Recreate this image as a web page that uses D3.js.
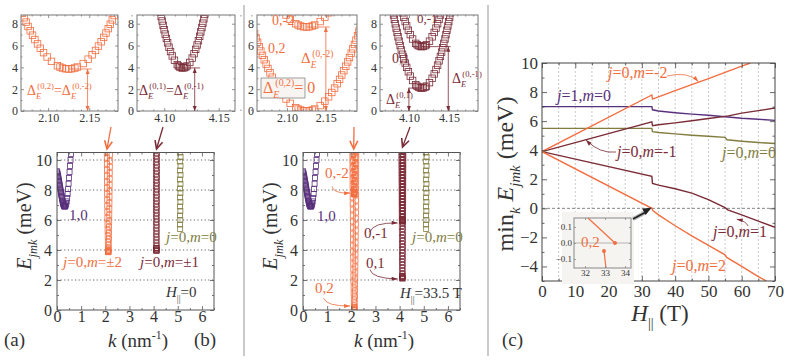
<!DOCTYPE html>
<html>
<head>
<meta charset="utf-8">
<script src="https://cdn.jsdelivr.net/npm/d3@7"></script>
<style>
body { margin: 0; background: #fff; }
svg { display: block; }
</style>
</head>
<body>
<svg id="chart" width="785" height="361"></svg>
<script>
// ---------- panel (a)/(b): band markers, k in nm^-1, E in meV ----------
var kJ1 = [0,0.01,0.02,0.03,0.04,0.05,0.06,0.07,0.08,0.09,0.10,0.11,0.12,0.13,0.14,0.15,0.16,0.17,0.18,0.19,0.20,0.21,0.22,0.23,0.24,0.25,0.26,0.27,0.28,0.29,0.30,0.31,0.32,0.33,0.34,0.36,0.38,0.40,0.42,0.44,0.46,0.48,0.50,0.52,0.54,0.56,0.58,0.60];
var eJ1 = [9.25,9.18,9.1,9.03,8.95,8.87,8.78,8.69,8.6,8.51,8.42,8.33,8.24,8.15,8.05,7.96,7.87,7.78,7.69,7.6,7.52,7.44,7.36,7.28,7.21,7.14,7.08,7.03,6.98,6.95,6.92,6.91,6.9,6.91,6.92,6.98,7.08,7.24,7.46,7.74,8.06,8.42,8.8,9.2,9.6,10.0,10.4,10.8];

// j=0, m=+-2 at H=0
var kM2a = [2.0603,2.0623,2.0643,2.0664,2.0685,2.0708,2.0732,2.0756,2.0782,2.0810,2.0839,2.0871,2.0905,2.0944,2.0988,2.1041,2.1113,2.1144,2.1175,2.1215,2.1250,2.1285,2.1325,2.1356,2.1427,2.1487,2.1535,2.1576,2.1612,2.1645,2.1676,2.1704,2.1731,2.1756,2.1780,2.1803,2.1826,2.1847,2.1867,2.1887];
var eM2a = [10.55,10.15,9.75,9.35,8.95,8.55,8.15,7.75,7.35,6.95,6.55,6.15,5.75,5.35,4.95,4.55,4.15,4.03,3.94,3.87,3.85,3.87,3.94,4.03,4.35,4.75,5.15,5.55,5.95,6.35,6.75,7.15,7.55,7.95,8.35,8.75,9.15,9.55,9.95,10.35];

// j=0, m=2 at H=33.5 T
var kM2b = [2.0448,2.0463,2.0479,2.0496,2.0513,2.0530,2.0547,2.0565,2.0584,2.0603,2.0623,2.0643,2.0664,2.0685,2.0708,2.0732,2.0756,2.0782,2.0810,2.0839,2.0871,2.0905,2.0944,2.0988,2.1041,2.1113,2.1144,2.1175,2.1215,2.1250,2.1285,2.1325,2.1356,2.1427,2.1487,2.1535,2.1576,2.1612,2.1645,2.1676,2.1704,2.1731,2.1756,2.1780,2.1803,2.1826,2.1847,2.1867,2.1887,2.1907,2.1925,2.1944,2.1962,2.1979,2.1996,2.2012,2.2029,2.2045,2.2060];
var eM2b = [10.3,9.9,9.5,9.1,8.7,8.3,7.9,7.5,7.1,6.7,6.3,5.9,5.5,5.1,4.7,4.3,3.9,3.5,3.1,2.7,2.3,1.9,1.5,1.1,0.7,0.3,0.18,0.09,0.02,0,0.02,0.09,0.18,0.5,0.9,1.3,1.7,2.1,2.5,2.9,3.3,3.7,4.1,4.5,4.9,5.3,5.7,6.1,6.5,6.9,7.3,7.7,8.1,8.5,8.9,9.3,9.7,10.1,10.5];

// j=0, m=-2 at H=33.5 T
var kM2nb = [2.0839,2.0871,2.0905,2.0944,2.0988,2.1041,2.1113,2.1144,2.1175,2.1215,2.1250,2.1285,2.1325,2.1356,2.1427,2.1487,2.1535,2.1576,2.1612,2.1645,2.1676];
var eM2nb = [10.4,10.0,9.6,9.2,8.8,8.4,8.0,7.88,7.79,7.72,7.7,7.72,7.79,7.88,8.2,8.6,9.0,9.4,9.8,10.2,10.6];

// j=0, m=+-1 at H=0
var kM1a = [4.0934,4.0941,4.0948,4.0956,4.0964,4.0972,4.0981,4.0990,4.0999,4.1009,4.1020,4.1031,4.1044,4.1058,4.1074,4.1094,4.1120,4.1131,4.1143,4.1157,4.1170,4.1183,4.1197,4.1209,4.1235,4.1257,4.1274,4.1289,4.1302,4.1314,4.1326,4.1336,4.1346,4.1355,4.1364,4.1372,4.1380,4.1388,4.1396,4.1403];
var eM1a = [10.65,10.25,9.85,9.45,9.05,8.65,8.25,7.85,7.45,7.05,6.65,6.25,5.85,5.45,5.05,4.65,4.25,4.13,4.04,3.97,3.95,3.97,4.04,4.13,4.45,4.85,5.25,5.65,6.05,6.45,6.85,7.25,7.65,8.05,8.45,8.85,9.25,9.65,10.05,10.45];

// j=0, m=1 at H=33.5 T
var kM1b = [4.0768,4.0778,4.0787,4.0797,4.0808,4.0819,4.0830,4.0841,4.0853,4.0865,4.0878,4.0891,4.0905,4.0920,4.0936,4.0954,4.0972,4.0993,4.1017,4.1046,4.1085,4.1102,4.1119,4.1141,4.1160,4.1179,4.1201,4.1218,4.1256,4.1289,4.1315,4.1337,4.1357,4.1375,4.1392,4.1407,4.1422,4.1435,4.1449,4.1461,4.1473,4.1485,4.1496,4.1507,4.1517,4.1528,4.1538,4.1547,4.1557];
var eM1b = [10.4,10.0,9.6,9.2,8.8,8.4,8.0,7.6,7.2,6.8,6.4,6.0,5.6,5.2,4.8,4.4,4.0,3.6,3.2,2.8,2.4,2.28,2.19,2.12,2.1,2.12,2.19,2.28,2.6,3.0,3.4,3.8,4.2,4.6,5.0,5.4,5.8,6.2,6.6,7.0,7.4,7.8,8.2,8.6,9.0,9.4,9.8,10.2,10.6];

// j=0, m=-1 at H=33.5 T
var kM1nb = [4.0865,4.0878,4.0891,4.0905,4.0920,4.0936,4.0954,4.0972,4.0993,4.1017,4.1046,4.1085,4.1102,4.1119,4.1141,4.1160,4.1179,4.1201,4.1218,4.1256,4.1289,4.1315,4.1337,4.1357,4.1375,4.1392,4.1407,4.1422,4.1435,4.1449];
var eM1nb = [10.6,10.2,9.8,9.4,9.0,8.6,8.2,7.8,7.4,7.0,6.6,6.2,6.08,5.99,5.92,5.9,5.92,5.99,6.08,6.4,6.8,7.2,7.6,8.0,8.4,8.8,9.2,9.6,10.0,10.4];

// j=0, m=0
var kM0 = [5.0840,5.0850,5.0860,5.0871,5.0883,5.0897,5.0913,5.0933,5.0961,5.1000,5.1055,5.1078,5.1095,5.1110,5.1123,5.1135,5.1145,5.1155];
var eM0 = [10.5,9.9,9.3,8.7,8.1,7.5,6.9,6.3,5.7,5.4,6.0,6.6,7.2,7.8,8.4,9.0,9.6,10.2];

// ---------- panel (c): min_k E vs field (T, meV) ----------
var fieldJ1 = [0,33,33.2,35,40,45,50,55,60,65,70];
var minJ1 = [7.0,7.0,6.78,6.7,6.58,6.48,6.4,6.3,6.2,6.13,6.05];
var fieldM0 = [0,33,33.2,35,40,45,50,55,55.6,60,65,70];
var minM0 = [5.5,5.5,5.28,5.22,5.12,5.03,4.96,4.88,4.72,4.62,4.53,4.46];
var fieldM1n = [0,33,33.2,35,40,45,50,55,56,60,65,70];
var minM1n = [3.9,5.95,5.68,5.75,5.88,6.03,6.18,6.33,6.36,6.55,6.72,6.9];
var fieldM1 = [0,33,33.2,35,40,45,50,55,55.8,60,65,70];
var minM1 = [3.9,2.2,1.72,1.6,1.35,1.05,0.6,0.05,-0.1,-0.45,-0.88,-1.3];
var fieldM2n = [0,33,33.2,40,50,60,62.6];
var minM2n = [3.9,7.8,7.52,8.1,8.92,9.78,10.0];
var fieldM2 = [0,33,33.3,35,40,45,50,55,55.5,60,65,67.4];
var minM2 = [3.9,0.0,-0.15,-0.45,-1.2,-1.9,-2.55,-3.2,-3.38,-4.0,-4.7,-5.0];
// zoom near 33 T
var zoomFieldA = [32.15,33.5];
var zoomMinA = [0.156,0.0];
var zoomFieldB = [32.95,33.05];
var zoomMinB = [-0.05,-0.156];

// ---------- ticks ----------
var kTicks = [0,1,2,3,4,5,6];
var kMinor = [0.5,1.5,2.5,3.5,4.5,5.5,6.5];
var eTicks = [0,2,4,6,8,10];
var eMinor = [1,3,5,7,9];
var insetETicks = [0,2,4,6,8];
var insetEMinor = [1,3,5,7];
var k2Ticks = [2.10,2.15];
var k2Minor = [2.07,2.08,2.09,2.11,2.12,2.13,2.14,2.16,2.17,2.18];
var k4Ticks = [4.10,4.15];
var k4Minor = [4.07,4.08,4.09,4.11,4.12,4.13,4.14,4.16,4.17,4.18];
var hTicks = [0,10,20,30,40,50,60,70];
var hMinor = [5,15,25,35,45,55,65];
var minTicks = [-4,-2,0,2,4,6,8,10];
var minMinor = [-5,-3,-1,1,3,5,7,9];
var zoomHTicks = [32,33,34];
var zoomETicks = [-0.1,0,0.1];

// ---------- drawing ----------
var ORANGE = "#f26e40", MAROON = "#7a2b36", PURPLE = "#59307c", OLIVE = "#827d3e", INK = "#333";
var SERIF = "'Liberation Serif', 'Times New Roman', serif";
var svg = d3.select("#chart");
var defs = svg.append("defs");

function clipRect(id, x, y) {
  defs.append("clipPath").attr("id", id).append("rect")
    .attr("x", x.range()[0]).attr("y", y.range()[1])
    .attr("width", x.range()[1] - x.range()[0]).attr("height", y.range()[0] - y.range()[1]);
}

function axes(g, x, y, o) {
  var xr = x.range(), yr = y.range();
  var col = o.color || "#555";
  function style(sel) {
    sel.attr("font-family", null).attr("font-size", null);
    sel.select(".domain").remove();
    sel.selectAll("line").attr("stroke", col).attr("stroke-width", 0.8);
    sel.selectAll("text").style("font-family", SERIF).style("font-size", o.fs + "px").attr("fill", INK);
  }
  var sides = [
    [d3.axisBottom, "translate(0," + yr[0] + ")", x, o.xMajor, o.xMinor, o.fx, o.px],
    [d3.axisTop, "translate(0," + yr[1] + ")", x, o.xMajor, o.xMinor, "", 0],
    [d3.axisLeft, "translate(" + xr[0] + ",0)", y, o.yMajor, o.yMinor, o.fy, o.py],
    [d3.axisRight, "translate(" + xr[1] + ",0)", y, o.yMajor, o.yMinor, "", 0]
  ];
  sides.forEach(function(s) {
    g.append("g").attr("transform", s[1])
      .call(s[0](s[2]).tickValues(s[4]).tickFormat("").tickSize(-o.t / 2))
      .call(style);
    g.append("g").attr("transform", s[1])
      .call(s[0](s[2]).tickValues(s[3]).tickFormat(s[5]).tickSize(-o.t).tickPadding(s[6]))
      .call(style);
  });
  g.append("rect").attr("x", xr[0]).attr("y", yr[1])
    .attr("width", xr[1] - xr[0]).attr("height", yr[0] - yr[1])
    .attr("fill", "none").attr("stroke", col).attr("stroke-width", 1);
}

function squares(g, x, y, ks, es, color, size) {
  g.append("g").selectAll("rect").data(d3.zip(ks, es)).join("rect")
    .attr("x", function(d) { return x(d[0]) - size / 2; })
    .attr("y", function(d) { return y(d[1]) - size / 2; })
    .attr("width", size).attr("height", size)
    .attr("fill", "none").attr("stroke", color).attr("stroke-width", 0.8);
}

// text with italic / sub / sup pieces
function rich(g, x, y, parts, size, color, anchor, rotate) {
  var t = g.append("text").attr("x", x).attr("y", y)
    .style("font-family", SERIF).style("font-size", size + "px")
    .attr("fill", color)
    .attr("text-anchor", anchor || "start");
  if (rotate) t.attr("transform", "rotate(" + rotate + "," + x + "," + y + ")");
  var shift = 0;
  parts.forEach(function(p) {
    var s = p.sub ? size * 0.3 : p.sup ? -size * 0.42 : 0;
    var sp = t.append("tspan").text(p.t).attr("dy", s - shift);
    if (p.dx) sp.attr("dx", p.dx);
    if (p.sub || p.sup) sp.style("font-size", (size * 0.62) + "px");
    if (p.i) sp.style("font-style", "italic");
    shift = s;
  });
  return t;
}

function jm(j, m) {
  return [{t: "j", i: 1}, {t: "=" + j + ","}, {t: "m", i: 1}, {t: "=" + m}];
}

function head(g, x, y, ang, len, wid, color) {
  var c = Math.cos(ang), s = Math.sin(ang);
  var bx = x - c * len, by = y - s * len;
  g.append("path")
    .attr("d", "M" + x + "," + y + "L" + (bx - s * wid) + "," + (by + c * wid) + "L" + (bx + s * wid) + "," + (by - c * wid) + "Z")
    .attr("fill", color);
}

function curved(g, p0, pc, p1, color) {
  g.append("path").attr("d", "M" + p0 + "Q" + pc + " " + p1)
    .attr("fill", "none").attr("stroke", color).attr("stroke-width", 0.8);
  head(g, p1[0], p1[1], Math.atan2(p1[1] - pc[1], p1[0] - pc[0]), 6, 2, color);
}

function chevron(g, p0, p1, color) {
  var ang = Math.atan2(p1[1] - p0[1], p1[0] - p0[0]);
  g.append("line").attr("x1", p0[0]).attr("y1", p0[1]).attr("x2", p1[0]).attr("y2", p1[1])
    .attr("stroke", color).attr("stroke-width", 1.3);
  var a1 = ang + Math.PI - 0.45, a2 = ang + Math.PI + 0.45;
  g.append("path")
    .attr("d", "M" + (p1[0] + 9 * Math.cos(a1)) + "," + (p1[1] + 9 * Math.sin(a1)) + "L" + p1 + "L" + (p1[0] + 9 * Math.cos(a2)) + "," + (p1[1] + 9 * Math.sin(a2)))
    .attr("fill", "none").attr("stroke", color).attr("stroke-width", 1.6);
}

function gapArrow(g, x, e0, e1, y, color) {
  g.append("line").attr("x1", x).attr("x2", x).attr("y1", y(e0)).attr("y2", y(e1))
    .attr("stroke", color).attr("stroke-width", 0.8);
  head(g, x, y(e0), -Math.PI / 2, 5, 2, color);
  head(g, x, y(e1), Math.PI / 2, 5, 2, color);
}

function hline(g, x, k0, k1, y, e, color) {
  g.append("line").attr("x1", x(k0)).attr("x2", x(k1)).attr("y1", y(e)).attr("y2", y(e))
    .attr("stroke", color).attr("stroke-width", 0.8);
}

// separators
svg.selectAll("line.sep").data([244, 488]).join("line").attr("class", "sep")
  .attr("x1", function(d) { return d; }).attr("x2", function(d) { return d; })
  .attr("y1", 5).attr("y2", 356).attr("stroke", "#cacaca").attr("stroke-width", 2);

// ---------- main k panels ----------
var yMain = d3.scaleLinear([0, 10.5], [310, 152.5]);
var xA = d3.scaleLinear([0, 6.5], [57, 214]);
var xB = d3.scaleLinear([0, 6.5], [303, 460]);

function kMain(x, id, bands) {
  var g = svg.append("g");
  clipRect(id, x, yMain);
  g.append("g").selectAll("line").data(eTicks.slice(1)).join("line")
    .attr("x1", x.range()[0]).attr("x2", x.range()[1])
    .attr("y1", function(d) { return yMain(d); }).attr("y2", function(d) { return yMain(d); })
    .attr("stroke", "#555").attr("stroke-width", 0.9).attr("stroke-dasharray", "1.2,2.4");
  var m = g.append("g").attr("clip-path", "url(#" + id + ")");
  bands.forEach(function(b) { squares(m, x, yMain, b[0], b[1], b[2], 5); });
  axes(g, x, yMain, {xMajor: kTicks, xMinor: kMinor, yMajor: eTicks, yMinor: eMinor,
    fx: d3.format("d"), fy: d3.format("d"), t: 4, px: 1, py: 5, fs: 16});
  return g;
}

var gA = kMain(xA, "clipA", [[kJ1, eJ1, PURPLE], [kM2a, eM2a, ORANGE], [kM1a, eM1a, MAROON], [kM0, eM0, OLIVE]]);
var gB = kMain(xB, "clipB", [[kJ1, eJ1, PURPLE], [kM2b, eM2b, ORANGE], [kM2nb, eM2nb, ORANGE], [kM1b, eM1b, MAROON], [kM1nb, eM1nb, MAROON], [kM0, eM0, OLIVE]]);

rich(gA, 31, 226, [{t: "E", i: 1}, {t: "jmk", sub: 1, i: 1}, {t: " (meV)"}], 20, INK, "middle", -90);
rich(gA, 138, 347, [{t: "k", i: 1}, {t: " (nm"}, {t: "-1", sup: 1}, {t: ")"}], 19, INK, "middle");
rich(gA, 4, 346, [{t: "(a)"}], 19, INK);
rich(gA, 69, 220, [{t: "1,0"}], 15, PURPLE);
rich(gA, 63, 267, jm(0, "±2"), 15, ORANGE);
rich(gA, 140, 267, jm(0, "±1"), 15, MAROON);
rich(gA, 166, 242, jm(0, 0), 15, OLIVE);
rich(gA, 166, 297, [{t: "H", i: 1}, {t: "||", sub: 1}, {t: "=0"}], 15, INK);

rich(gB, 277, 226, [{t: "E", i: 1}, {t: "jmk", sub: 1, i: 1}, {t: " (meV)"}], 20, INK, "middle", -90);
rich(gB, 384, 347, [{t: "k", i: 1}, {t: " (nm"}, {t: "-1", sup: 1}, {t: ")"}], 19, INK, "middle");
rich(gB, 194, 346, [{t: "(b)"}], 19, INK);
rich(gB, 317, 221, [{t: "1,0"}], 15, PURPLE);
rich(gB, 325, 178, [{t: "0,-2"}], 15, ORANGE);
rich(gB, 315, 293, [{t: "0,2"}], 15, ORANGE);
rich(gB, 364, 238, [{t: "0,-1"}], 15, MAROON);
rich(gB, 366, 268, [{t: "0,1"}], 15, MAROON);
rich(gB, 412, 242, jm(0, 0), 15, OLIVE);
rich(gB, 400, 298, [{t: "H", i: 1}, {t: "||", sub: 1}, {t: "=33.5 T"}], 15, INK);
curved(gB, [xB(1.2), yMain(8.25)], [xB(1.25), yMain(7.75)], [xB(1.95), yMain(7.8)], ORANGE);
curved(gB, [xB(0.85), yMain(0.8)], [xB(0.95), yMain(0.25)], [xB(1.95), yMain(0.27)], ORANGE);
curved(gB, [xB(2.77), yMain(5.2)], [xB(2.9), yMain(5.85)], [xB(3.92), yMain(5.8)], MAROON);
curved(gB, [xB(2.77), yMain(2.7)], [xB(2.85), yMain(2.1)], [xB(3.92), yMain(2.07)], MAROON);

// ---------- insets ----------
var yIn = d3.scaleLinear([0, 8.8], [111, 15]);
var xA1 = d3.scaleLinear([2.067, 2.185], [21, 118]);
var xA2 = d3.scaleLinear([4.075, 4.165], [137, 235]);
var xB1 = d3.scaleLinear([2.0615, 2.19], [257, 357]);
var xB2 = d3.scaleLinear([4.064, 4.186], [380, 478]);

function inset(x, id, bands, ticks, minor) {
  var g = svg.append("g");
  clipRect(id, x, yIn);
  var m = g.append("g").attr("clip-path", "url(#" + id + ")");
  bands.forEach(function(b) { squares(m, x, yIn, b[0], b[1], b[2], 6.5); });
  axes(g, x, yIn, {xMajor: ticks, xMinor: minor, yMajor: insetETicks, yMinor: insetEMinor,
    fx: d3.format(".2f"), fy: d3.format("d"), t: 3, px: 2, py: 3, fs: 12, color: "#777"});
  return g;
}

var iA1 = inset(xA1, "clipA1", [[kM2a, eM2a, ORANGE]], k2Ticks, k2Minor);
var iA2 = inset(xA2, "clipA2", [[kM1a, eM1a, MAROON]], k4Ticks, k4Minor);
var iB1 = inset(xB1, "clipB1", [[kM2b, eM2b, ORANGE], [kM2nb, eM2nb, ORANGE]], k2Ticks, k2Minor);
var iB2 = inset(xB2, "clipB2", [[kM1b, eM1b, MAROON], [kM1nb, eM1nb, MAROON]], k4Ticks, k4Minor);

var dOpen = function(sup) { return [{t: "Δ"}, {t: "E", sub: 1, i: 1}, {t: sup, sup: 1, dx: -4}]; };

hline(iA1, xA1, 2.125, 2.153, yIn, 3.85, ORANGE);
gapArrow(iA1, xA1(2.148), 3.85, 0, yIn, ORANGE);
rich(iA1, 27, 95, dOpen("(0,2)").concat([{t: "="}]).concat(dOpen("(0,-2)")), 14, ORANGE);

hline(iA2, xA2, 4.117, 4.133, yIn, 3.95, MAROON);
gapArrow(iA2, xA2(4.128), 3.95, 0, yIn, MAROON);
rich(iA2, 139, 95, dOpen("(0,1)").concat([{t: "="}]).concat(dOpen("(0,-1)")), 14, MAROON);

hline(iB1, xB1, 2.125, 2.155, yIn, 7.7, ORANGE);
gapArrow(iB1, xB1(2.15), 7.7, 0, yIn, ORANGE);
rich(iB1, 301, 63, dOpen("(0,-2)"), 15, ORANGE);
rich(iB1, 272, 25, [{t: "0,-2"}], 14, ORANGE);
rich(iB1, 268, 53, [{t: "0,2"}], 14, ORANGE);
iB1.append("rect").attr("x", 261).attr("y", 78).attr("width", 44).attr("height", 20)
  .attr("fill", "#f7f4f1").attr("stroke", "#888").attr("stroke-width", 0.8);
rich(iB1, 263, 93, dOpen("(0,2)").concat([{t: "= 0"}]), 16, ORANGE);

hline(iB2, xB2, 4.099, 4.116, yIn, 2.1, MAROON);
gapArrow(iB2, xB2(4.10), 2.1, 0, yIn, MAROON);
hline(iB2, xB2, 4.116, 4.152, yIn, 5.9, MAROON);
gapArrow(iB2, xB2(4.149), 5.9, 0, yIn, MAROON);
rich(iB2, 386, 104, dOpen("(0,1)"), 14, MAROON);
rich(iB2, 452, 83, dOpen("(0,-1)"), 14, MAROON);
rich(iB2, 417, 23, [{t: "0,-1"}], 13, MAROON);
rich(iB2, 392, 63, [{t: "0,1"}], 14, MAROON);

// arrows from insets to columns
chevron(svg, [111, 127], [xA(2.07), 149], ORANGE);
chevron(svg, [163, 127], [xA(4.12), 149], MAROON);
chevron(svg, [354, 127], [xB(2.1), 149], ORANGE);
chevron(svg, [410, 127], [xB(4.12), 147], MAROON);

// ---------- panel (c) ----------
var xC = d3.scaleLinear([0, 70], [542, 775]);
var yC = d3.scaleLinear([-5, 10], [281, 63]);
var gC = svg.append("g");
clipRect("clipC", xC, yC);

gC.append("g").selectAll("line").data(d3.range(5, 70, 5)).join("line")
  .attr("x1", function(d) { return xC(d); }).attr("x2", function(d) { return xC(d); })
  .attr("y1", yC(10)).attr("y2", yC(-5))
  .attr("stroke", "#bbb").attr("stroke-width", 0.8).attr("stroke-dasharray", "2,2");
gC.append("line").attr("x1", xC(0)).attr("x2", xC(70)).attr("y1", yC(0)).attr("y2", yC(0))
  .attr("stroke", "#777").attr("stroke-width", 0.9).attr("stroke-dasharray", "3,2");

var lineC = d3.line().x(function(d) { return xC(d[0]); }).y(function(d) { return yC(d[1]); });
var linesC = gC.append("g").attr("clip-path", "url(#clipC)");
[[fieldJ1, minJ1, PURPLE], [fieldM0, minM0, OLIVE], [fieldM1n, minM1n, MAROON],
 [fieldM1, minM1, MAROON], [fieldM2n, minM2n, ORANGE], [fieldM2, minM2, ORANGE]].forEach(function(s) {
  linesC.append("path").datum(d3.zip(s[0], s[1])).attr("d", lineC)
    .attr("fill", "none").attr("stroke", s[2]).attr("stroke-width", 1.4);
});

axes(gC, xC, yC, {xMajor: hTicks, xMinor: hMinor, yMajor: minTicks, yMinor: minMinor,
  fx: d3.format("d"), fy: d3.format("d"), t: 5, px: 4, py: 4, fs: 17, color: "#444"});

rich(gC, 608, 78, jm(0, -2), 16, ORANGE);
rich(gC, 557, 101, jm(1, 0), 16, PURPLE);
rich(gC, 617, 157, jm(0, -1), 16, MAROON);
rich(gC, 722, 158, jm(0, 0), 16, OLIVE);
rich(gC, 713, 237, jm(0, 1), 16, MAROON);
rich(gC, 672, 271, jm(0, 2), 16, ORANGE);
curved(gC, [667, 76], [688, 71], [xC(47), yC(8.72)], ORANGE);
curved(gC, [616, 152], [600, 154], [xC(13.2), yC(4.7)], MAROON);
curved(gC, [748, 226], [746, 221], [xC(58.5), yC(-0.75)], MAROON);

rich(gC, 513, 174, [{t: "min"}, {t: "k", sub: 1, i: 1}, {t: " "}, {t: "E", i: 1}, {t: "jmk", sub: 1, i: 1}, {t: " (meV)"}], 24, INK, "middle", -90);
rich(gC, 660, 321, [{t: "H", i: 1}, {t: "||", sub: 1}, {t: " (T)"}], 23, INK, "middle");
rich(gC, 502, 346, [{t: "(c)"}], 19, INK);

// zoom inset near the m=2 crossing
var xZ = d3.scaleLinear([31.45, 34.3], [574, 631]);
var yZ = d3.scaleLinear([-0.156, 0.156], [268, 218]);
var gZ = svg.append("g");
gZ.append("rect").attr("x", 562).attr("y", 212).attr("width", 72).attr("height", 72).attr("fill", "#f6f4f1");
gZ.append("line").attr("x1", xZ(31.45)).attr("x2", xZ(34.3)).attr("y1", yZ(0)).attr("y2", yZ(0))
  .attr("stroke", "#999").attr("stroke-width", 0.7);
var lineZ = d3.line().x(function(d) { return xZ(d[0]); }).y(function(d) { return yZ(d[1]); });
[[zoomFieldA, zoomMinA], [zoomFieldB, zoomMinB]].forEach(function(s) {
  gZ.append("path").datum(d3.zip(s[0], s[1])).attr("d", lineZ)
    .attr("fill", "none").attr("stroke", ORANGE).attr("stroke-width", 1.2);
});
gZ.selectAll("circle").data([[zoomFieldA[1], zoomMinA[1]], [zoomFieldB[0], zoomMinB[0]]]).join("circle")
  .attr("cx", function(d) { return xZ(d[0]); }).attr("cy", function(d) { return yZ(d[1]); })
  .attr("r", 2).attr("fill", ORANGE);
axes(gZ, xZ, yZ, {xMajor: zoomHTicks, xMinor: [], yMajor: zoomETicks, yMinor: [],
  fx: d3.format("d"), fy: d3.format(".1f"), t: 2, px: 2, py: 2, fs: 9, color: "#888"});
rich(gZ, 581, 247, [{t: "0,2"}], 15, ORANGE);
gZ.append("line").attr("x1", 633).attr("y1", 219).attr("x2", 646).attr("y2", 212)
  .attr("stroke", "#bbb").attr("stroke-width", 4);
gZ.append("line").attr("x1", 633).attr("y1", 219).attr("x2", 646).attr("y2", 212)
  .attr("stroke", "#222").attr("stroke-width", 1.6);
head(gZ, xC(33), yC(0.05), Math.atan2(-7, 13), 9, 3.5, "#222");
</script>
</body>
</html>
